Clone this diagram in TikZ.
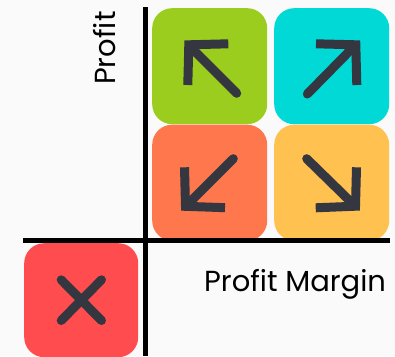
\documentclass[tikz,border=0pt]{standalone}
\usepackage{fontspec}
\setmainfont{Poppins}
\definecolor{bg}{HTML}{FAFAFA}
\definecolor{ink}{HTML}{343640}
\definecolor{cgreen}{HTML}{9BCD1E}
\definecolor{ccyan}{HTML}{00D9D5}
\definecolor{corange}{HTML}{FF774D}
\definecolor{cyellow}{HTML}{FFC14F}
\definecolor{cred}{HTML}{FF4D4F}
\tikzset{
  tile/.style={draw=none,fill=#1,rounded corners=20pt,minimum width=115pt,minimum height=116pt,inner sep=0pt,anchor=north west},
  axis/.style={line width=5.5pt,black},
  shaft/.style={line width=9pt,ink,line cap=round},
  head/.style={line width=9pt,ink,line cap=butt,miter limit=10},
  lab/.style={font=\fontsize{29pt}{32pt}\selectfont,inner sep=0pt,text=black,anchor=base west}
}
\begin{document}
\begin{tikzpicture}[x=1pt,y=-1pt]
\path[use as bounding box,fill=bg] (0,0) rectangle (395,356);
\clip (0,0) rectangle (395,356);
\node[tile=cgreen] (g) at (152,8) {};
\node[tile=ccyan] (c) at (274,8) {};
\node[tile=corange] (o) at (152,124.5) {};
\node[tile=cyellow] (y) at (274,124.5) {};
\node[tile=cred,minimum width=114pt,minimum height=114pt] (r) at (24,243) {};
% axes
\coordinate (vt) at (145.7,7);
\coordinate (vb) at (145.7,356);
\coordinate (hl) at (23,240.7);
\coordinate (hr) at (390,240.7);
\draw[axis] (vt) -- (vb);
\draw[axis] (hl) -- (hr);
% green
\draw[shaft] (236.7,93.3) -- (191,47.5);
\draw[head] (228.3,43.8) -- (188.8,44.8) -- (187.8,85);
% cyan
\draw[shaft] (307.3,94) -- (353,47.5);
\draw[head] (316,43.8) -- (355.8,44.8) -- (356.8,85);
% orange
\draw[shaft] (233.3,158.7) -- (188,204);
\draw[head] (225,207.7) -- (185.5,206.3) -- (184.5,167.3);
% yellow
\draw[shaft] (306.7,158.7) -- (353,204);
\draw[head] (315.7,207.8) -- (355.5,206.2) -- (356.5,167.3);
% cross
\draw[shaft] (61.2,279.8) -- (101.5,320.5);
\draw[shaft] (101.5,279.8) -- (61.2,320.5);
% labels
\node[lab,rotate=90] (py) at (115,85) {Profit};
\node[lab] (px) at (204,291) {Profit Margin};
\end{tikzpicture}
\end{document}
